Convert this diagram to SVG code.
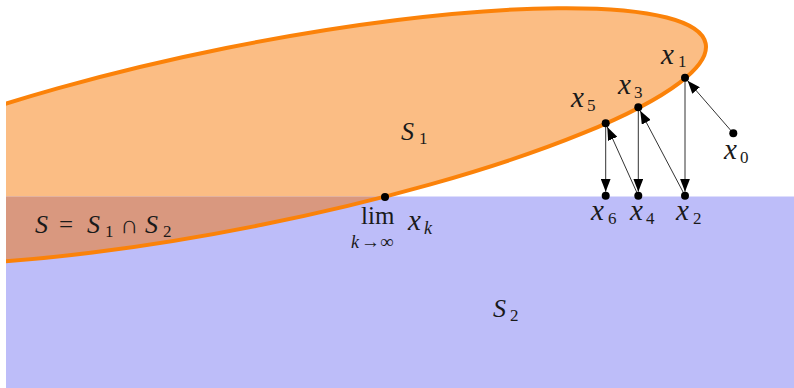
<svg xmlns="http://www.w3.org/2000/svg" width="794" height="388" viewBox="0 0 794 388">
<style>
.m{font-family:"Liberation Serif","DejaVu Serif",serif;fill:#1a1a1a}
.v{font-family:"Liberation Serif",serif;font-style:italic;font-size:29px}
.vs{font-family:"Liberation Serif",serif;font-style:italic;font-size:26px}
.r{font-size:25px}
.s{font-size:17px}
.ar{font-size:19px}
.sv{font-family:"Liberation Serif",serif;font-style:italic;font-size:18px}
.pt{fill:#000}
.arr{stroke:#333;stroke-width:1;fill:none;marker-end:url(#ah)}
</style>
<defs>
<ellipse id="e" cx="244" cy="136.4" rx="470.9" ry="90.2" transform="rotate(-11.38 244 136.4)"/>
<clipPath id="above"><rect x="6" y="0" width="788" height="196.5"/></clipPath>
<clipPath id="below"><rect x="6" y="196.5" width="788" height="192"/></clipPath>
<clipPath id="all"><rect x="6" y="0" width="788" height="388"/></clipPath>
<marker id="ah" markerUnits="userSpaceOnUse" markerWidth="13" markerHeight="10" refX="13" refY="5" orient="auto"><path d="M0,0 L13,5 L0,10 Z" fill="#000"/></marker>
</defs>
<rect width="794" height="388" fill="#fff"/>

<g id="S2-region">
<rect x="6" y="196.5" width="788" height="191.5" fill="#bdbdf9"/>
</g>
<g id="S1-region">
<use href="#e" fill="#fbbd84" clip-path="url(#above)"/>
</g>
<g id="S-region">
<use href="#e" fill="#d9987f" clip-path="url(#below)"/>
</g>
<g id="S1-boundary">
<use href="#e" fill="none" stroke="#fb8209" stroke-width="4" clip-path="url(#all)"/>
</g>

<g id="connectors">
<line class="arr" x1="733.3" y1="133.3" x2="687.6" y2="80.7"/>
<line class="arr" x1="685" y1="77.7" x2="685" y2="191.7"/>
<line class="arr" x1="685" y1="195.7" x2="640.2" y2="110.8"/>
<line class="arr" x1="638.3" y1="107.3" x2="638.3" y2="191.7"/>
<line class="arr" x1="638.3" y1="195.7" x2="607.3" y2="127"/>
<line class="arr" x1="605.7" y1="123.3" x2="605.7" y2="191.7"/>
</g>

<g id="x0"><circle class="pt" cx="733.3" cy="133.3" r="4"/>
<text class="m" y="159"><tspan class="v" x="724">x</tspan><tspan class="s" x="740" y="163">0</tspan></text></g>
<g id="x1"><circle class="pt" cx="685" cy="77.7" r="4"/>
<text class="m" y="63.5"><tspan class="v" x="661">x</tspan><tspan class="s" x="678" y="67">1</tspan></text></g>
<g id="x2"><circle class="pt" cx="685" cy="195.7" r="4"/>
<text class="m" y="220"><tspan class="v" x="676">x</tspan><tspan class="s" x="693" y="223.5">2</tspan></text></g>
<g id="x3"><circle class="pt" cx="638.3" cy="107.3" r="4"/>
<text class="m" y="94"><tspan class="v" x="618">x</tspan><tspan class="s" x="634" y="97.5">3</tspan></text></g>
<g id="x4"><circle class="pt" cx="638.3" cy="195.7" r="4"/>
<text class="m" y="220"><tspan class="v" x="630">x</tspan><tspan class="s" x="646" y="223.5">4</tspan></text></g>
<g id="x5"><circle class="pt" cx="605.7" cy="123.3" r="4"/>
<text class="m" y="107"><tspan class="v" x="571">x</tspan><tspan class="s" x="587" y="110.5">5</tspan></text></g>
<g id="x6"><circle class="pt" cx="605.7" cy="195.7" r="4"/>
<text class="m" y="220"><tspan class="v" x="591">x</tspan><tspan class="s" x="608" y="223.5">6</tspan></text></g>

<g id="limit"><circle class="pt" cx="385" cy="197" r="4"/>
<text class="m r" x="361" y="224">lim</text>
<text class="m" y="230"><tspan class="v" x="408">x</tspan><tspan class="sv" x="424" y="234">k</tspan></text>
<text class="m" y="248"><tspan class="sv" x="351">k</tspan><tspan class="ar" x="361">→∞</tspan></text></g>

<g id="S1-label"><text class="m" y="140"><tspan class="vs" x="401">S</tspan><tspan class="s" x="419" y="144">1</tspan></text></g>
<g id="S2-label"><text class="m" y="317"><tspan class="vs" x="493">S</tspan><tspan class="s" x="510" y="321">2</tspan></text></g>
<g id="S-label"><text class="m" y="233"><tspan class="vs" x="35">S</tspan><tspan class="r" x="59">=</tspan><tspan class="vs" x="87">S</tspan><tspan class="s" x="105" y="237">1</tspan><tspan class="r" x="120" y="233">∩</tspan><tspan class="vs" x="145">S</tspan><tspan class="s" x="163" y="237">2</tspan></text></g>
</svg>
